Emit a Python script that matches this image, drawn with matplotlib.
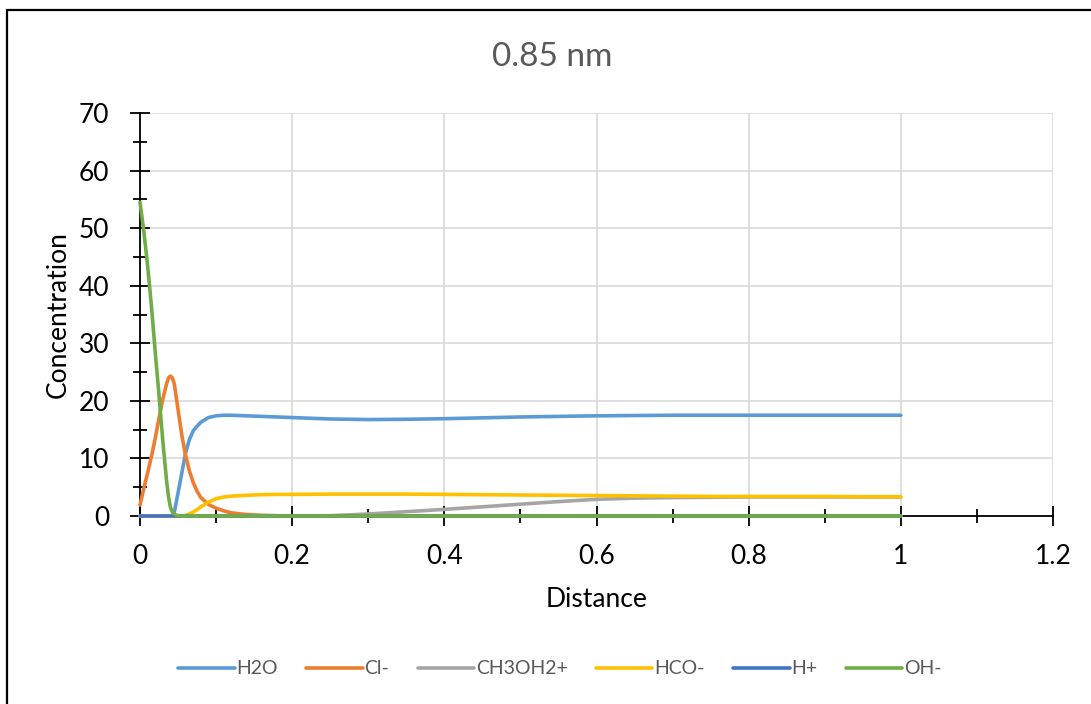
import numpy as np
import matplotlib
matplotlib.use("Agg")
import matplotlib.pyplot as plt
from matplotlib.patches import Rectangle
from matplotlib.ticker import MultipleLocator

plt.rcParams['font.family'] = ['Lato', 'DejaVu Sans']

title = "0.85 nm"
distance = [0, 0.005, 0.01, 0.015, 0.02, 0.025, 0.03, 0.035, 0.0375, 0.04, 0.0425, 0.045,
            0.05, 0.055, 0.06, 0.065, 0.07, 0.075, 0.08, 0.09, 0.1, 0.11,
            0.12, 0.14, 0.16, 0.18, 0.2, 0.25, 0.3, 0.35, 0.4, 0.45,
            0.5, 0.55, 0.6, 0.65, 0.7, 0.75, 0.8, 0.85, 0.9, 0.95, 1.0]

h2o = [0, 0, 0, 0, 0, 0, 0, 0, 0, 0, 0.1, 0.6,
       4, 7.5, 11, 13.3, 14.8, 15.6, 16.3, 17.1, 17.4, 17.5,
       17.5, 17.4, 17.3, 17.2, 17.1, 16.85, 16.75, 16.8, 16.9, 17.05,
       17.2, 17.3, 17.4, 17.45, 17.5, 17.5, 17.5, 17.5, 17.5, 17.5, 17.5]

cl = [1.9, 4.8, 7.5, 10.3, 13.5, 17, 20.3, 23, 24.0, 24.3, 24.0, 23,
      18.5, 14, 10.5, 7.8, 5.8, 4.3, 3.2, 2.0, 1.35, 0.9,
      0.55, 0.25, 0.12, 0.05, 0.02, 0, 0, 0, 0, 0,
      0, 0, 0, 0, 0, 0, 0, 0, 0, 0, 0]

ch3oh2 = [0, 0, 0, 0, 0, 0, 0, 0, 0, 0, 0, 0,
          0, 0, 0, 0, 0, 0, 0, 0, 0, 0,
          0, 0, 0, 0, 0, 0.05, 0.35, 0.75, 1.15, 1.6,
          2.05, 2.5, 2.9, 3.1, 3.2, 3.25, 3.3, 3.3, 3.3, 3.3, 3.3]

hco = [0, 0, 0, 0, 0, 0, 0, 0, 0, 0, 0, 0,
       0, 0, 0.1, 0.35, 0.7, 1.1, 1.6, 2.4, 3.0, 3.3,
       3.45, 3.6, 3.7, 3.75, 3.75, 3.8, 3.8, 3.8, 3.75, 3.7,
       3.65, 3.6, 3.55, 3.5, 3.45, 3.4, 3.4, 3.4, 3.4, 3.35, 3.35]

hplus = [0] * len(distance)

oh = [54.5, 49.5, 43.5, 36.5, 28.5, 21, 13, 6, 3.3, 1.5, 0.7, 0.3,
      0.05, 0, 0, 0, 0, 0, 0, 0, 0, 0,
      0, 0, 0, 0, 0, 0, 0, 0, 0, 0,
      0, 0, 0, 0, 0, 0, 0, 0, 0, 0, 0]

series = [("H2O", h2o, "#5B9BD5"), ("Cl-", cl, "#ED7D31"),
          ("CH3OH2+", ch3oh2, "#A5A5A5"), ("HCO-", hco, "#FFC000"),
          ("H+", hplus, "#4472C4"), ("OH-", oh, "#70AD47")]

fig = plt.figure(figsize=(10.91, 7.04), dpi=100)
ax = fig.add_axes([140 / 1091, 1 - 516 / 704, (1053 - 140) / 1091, (516 - 113) / 704])

# outer chart border (only left and top are inside the picture)
fig.patches.append(Rectangle((6.5 / 1091, -0.1), 1.2, 1.1 - 10.5 / 704,
                             transform=fig.transFigure, fill=False,
                             edgecolor="black", linewidth=1.6))

for name, vals, col in series:
    ax.plot(distance, vals, color=col, linewidth=2.6, label=name,
            solid_capstyle="round", solid_joinstyle="round",
            clip_on=False, zorder=3)

ax.set_xlim(0, 1.2)
ax.set_ylim(0, 70)
ax.xaxis.set_minor_locator(MultipleLocator(0.1))
ax.yaxis.set_major_locator(MultipleLocator(10))
ax.yaxis.set_minor_locator(MultipleLocator(5))
ax.set_xticks([0, 0.2, 0.4, 0.6, 0.8, 1.0, 1.2])
ax.set_xticklabels(["0", "0.2", "0.4", "0.6", "0.8", "1", "1.2"])

ax.grid(True, which="major", color="#d9d9d9", linewidth=1.2, zorder=0)
ax.set_axisbelow(True)
for s in ["top", "right"]:
    ax.spines[s].set_visible(False)
for s in ["left", "bottom"]:
    ax.spines[s].set_color("black")
    ax.spines[s].set_linewidth(1.3)
    ax.spines[s].set_zorder(2)

ax.tick_params(which="major", direction="inout", length=14, width=1.3,
               labelsize=19, color="black")
ax.tick_params(axis="x", which="major", pad=13)
ax.tick_params(axis="y", which="major", pad=15)
ax.tick_params(which="minor", direction="inout", length=9.5, width=1.3,
               color="black")

ax.set_xlabel("Distance", fontsize=19, labelpad=13)
ax.set_ylabel("Concentration", fontsize=19, labelpad=6)
fig.text(552 / 1091, 1 - 57 / 704, title, fontsize=24, color="#595959",
         ha="center", va="center")

leg = fig.legend(loc="center", bbox_to_anchor=(560 / 1091, 1 - 669 / 704),
                 ncol=6, frameon=False, fontsize=14, handlelength=2.9,
                 columnspacing=1.45, handletextpad=0.1)
for t in leg.get_texts():
    t.set_color("#595959")

fig.savefig("out.png", dpi=100)
